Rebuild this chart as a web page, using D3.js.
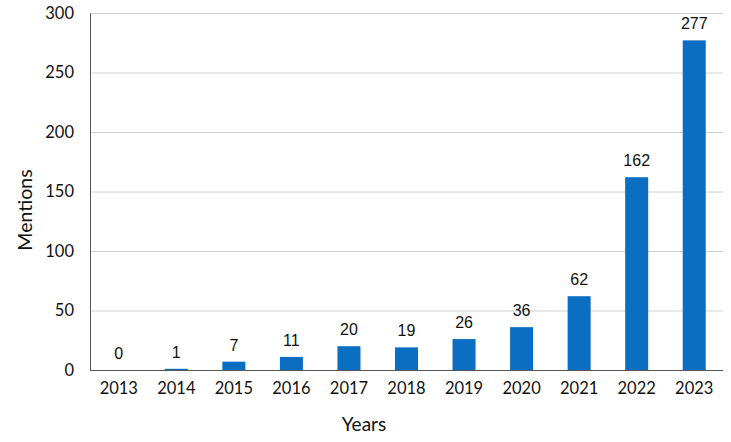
<!DOCTYPE html>
<html><head><meta charset="utf-8">
<script src="https://cdn.jsdelivr.net/npm/d3@7"></script>
<style>body{margin:0;background:#fff}svg{display:block}</style>
</head><body>
<svg id="chart" width="731" height="442"></svg>
<script>
const years = ["2013","2014","2015","2016","2017","2018","2019","2020","2021","2022","2023"];
const mentions = [0,1,7,11,20,19,26,36,62,162,277];
const yTicks = [0,50,100,150,200,250,300];

(function(){
const svg = d3.select("#chart");
const mLeft = 90, mRight = 723, mTop = 13, mBottom = 370;
const x = d3.scaleBand().domain(years).range([mLeft, mRight]).paddingInner(0.6).paddingOuter(0.3);
const y = d3.scaleLinear().domain([0,300]).range([mBottom, mTop]);

// gridlines
svg.append("g").selectAll("line").data(yTicks.filter(d=>d>0)).join("line")
  .attr("x1", mLeft).attr("x2", mRight)
  .attr("y1", d=>y(d)+0.5).attr("y2", d=>y(d)+0.5)
  .attr("stroke", "#d0d0d0").attr("stroke-width", 1);

// bars
svg.append("g").selectAll("rect").data(years).join("rect")
  .attr("x", (d)=>x(d)).attr("width", x.bandwidth())
  .attr("y", (d,i)=>y(mentions[i])).attr("height", (d,i)=>mBottom - y(mentions[i]))
  .attr("fill", "#0a6fc2");

// value labels
svg.append("g").selectAll("text").data(years).join("text")
  .attr("x", d=>x(d)+x.bandwidth()/2)
  .attr("y", (d,i)=>y(mentions[i]) - 11)
  .attr("text-anchor","middle")
  .attr("font-family","'Liberation Sans', Arial, sans-serif")
  .attr("font-size", 16).attr("fill","#111")
  .text((d,i)=>mentions[i]);

// y axis
const yAxis = svg.append("g").attr("transform", `translate(${mLeft},0)`)
  .call(d3.axisLeft(y).tickValues(yTicks).tickSize(0).tickPadding(16));
yAxis.select(".domain").attr("stroke","#555");
yAxis.selectAll("text").attr("font-family","Lato, sans-serif").attr("font-size",16.5).attr("fill","#111");

// x axis
const xAxis = svg.append("g").attr("transform", `translate(0,${mBottom})`)
  .call(d3.axisBottom(x).tickSize(0).tickPadding(12));
xAxis.select(".domain").attr("stroke","#555").attr("d", `M${mLeft},0.5H${mRight}`);
xAxis.selectAll("text").attr("font-family","Lato, sans-serif").attr("font-size",16.5).attr("fill","#111");

// axis titles
svg.append("text").attr("x", 364).attr("y", 431).attr("text-anchor","middle")
  .attr("font-family","Lato, sans-serif").attr("font-size",19).attr("fill","#111").text("Years");
svg.append("text").attr("transform","translate(32,210) rotate(-90)").attr("text-anchor","middle")
  .attr("font-family","Lato, sans-serif").attr("font-size",19.5).attr("fill","#111").text("Mentions");
})();
</script>
</body></html>
